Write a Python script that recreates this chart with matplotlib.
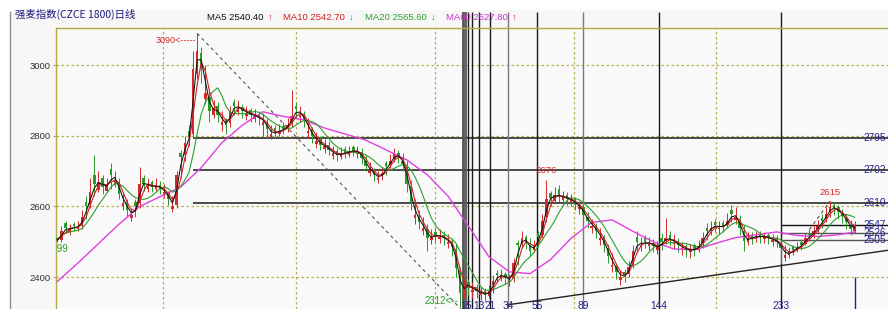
import numpy as np
import pandas as pd
import matplotlib
matplotlib.use("Agg")
import matplotlib.pyplot as plt
from matplotlib.lines import Line2D
from matplotlib.patches import Rectangle
import matplotlib.transforms as mtransforms

# one candle = 3 trading days
opens = [
    2512, 2505, 2552, 2528, 2550, 2535, 2545, 2612, 2605, 2690,
    2648, 2680, 2645, 2705, 2662, 2668, 2600, 2612, 2568, 2612,
    2610, 2680, 2650, 2668, 2650, 2662, 2632, 2638, 2592, 2605,
    2752, 2745, 2815, 2805, 2975, 3035, 2905, 2910, 2858, 2885,
    2830, 2845, 2835, 2895, 2868, 2882, 2855, 2872, 2848, 2862,
    2830, 2838, 2798, 2822, 2805, 2828, 2818, 2835, 2885, 2852,
    2862, 2808, 2818, 2778, 2790, 2762, 2775, 2742, 2758, 2740,
    2762, 2746, 2768, 2748, 2755, 2728, 2694, 2702, 2674, 2685,
    2724, 2718, 2735, 2752, 2728, 2712, 2658, 2568, 2575, 2532,
    2535, 2505, 2528, 2508, 2520, 2495, 2500, 2480, 2420, 2350,
    2385, 2358, 2372, 2350, 2362, 2348, 2378, 2412, 2398, 2408,
    2385, 2395, 2498, 2495, 2515, 2492, 2478, 2525, 2520, 2570,
    2638, 2615, 2650, 2618, 2632, 2610, 2620, 2592, 2598, 2570,
    2540, 2545, 2505, 2510, 2482, 2428, 2432, 2392, 2415, 2410,
    2435, 2515, 2485, 2510, 2488, 2498, 2478, 2512, 2502, 2518,
    2495, 2502, 2476, 2488, 2470, 2490, 2478, 2498, 2540, 2530,
    2555, 2535, 2552, 2548, 2590, 2562, 2560, 2530, 2500, 2520,
    2508, 2522, 2508, 2518, 2500, 2510, 2495, 2455, 2462, 2485,
    2476, 2500, 2495, 2525, 2520, 2535, 2568, 2565, 2585, 2605,
    2598, 2580, 2568, 2545, 2532,
]
closes = [
    2505, 2530, 2540, 2535, 2545, 2540, 2570, 2600, 2640, 2665,
    2670, 2655, 2660, 2690, 2675, 2635, 2610, 2590, 2575, 2600,
    2665, 2665, 2660, 2655, 2660, 2650, 2640, 2620, 2600, 2690,
    2740, 2780, 2800, 2990, 3040, 2990, 2920, 2870, 2880, 2860,
    2840, 2830, 2870, 2885, 2880, 2870, 2865, 2860, 2855, 2850,
    2840, 2820, 2805, 2810, 2815, 2820, 2830, 2855, 2875, 2860,
    2845, 2815, 2800, 2785, 2775, 2770, 2760, 2750, 2745, 2750,
    2752, 2756, 2758, 2755, 2738, 2715, 2700, 2690, 2680, 2695,
    2715, 2730, 2748, 2740, 2720, 2665, 2610, 2575, 2555, 2540,
    2510, 2515, 2520, 2515, 2510, 2500, 2485, 2425, 2355, 2380,
    2375, 2365, 2360, 2355, 2350, 2360, 2390, 2405, 2405, 2398,
    2390, 2440, 2490, 2510, 2500, 2475, 2490, 2515, 2560, 2620,
    2625, 2633, 2630, 2626, 2622, 2618, 2605, 2598, 2575, 2558,
    2545, 2530, 2512, 2490, 2460, 2435, 2415, 2400, 2405, 2430,
    2475, 2500, 2492, 2500, 2495, 2488, 2484, 2500, 2512, 2505,
    2500, 2490, 2482, 2478, 2476, 2480, 2488, 2510, 2532, 2540,
    2548, 2540, 2545, 2560, 2580, 2568, 2540, 2502, 2510, 2512,
    2516, 2515, 2514, 2510, 2505, 2500, 2482, 2462, 2470, 2478,
    2485, 2492, 2510, 2518, 2530, 2545, 2560, 2578, 2598, 2595,
    2585, 2572, 2555, 2535, 2545,
]
highs = [
    2515, 2545, 2560, 2550, 2555, 2560, 2590, 2630, 2680, 2746,
    2700, 2690, 2680, 2722, 2700, 2680, 2640, 2620, 2595, 2620,
    2712, 2690, 2680, 2675, 2680, 2672, 2665, 2645, 2630, 2700,
    2760, 2800, 2830, 3040, 3090, 3050, 3000, 2930, 2900, 2895,
    2870, 2850, 2885, 2905, 2900, 2890, 2885, 2880, 2875, 2870,
    2865, 2850, 2830, 2830, 2832, 2838, 2850, 2930, 2895, 2885,
    2870, 2850, 2825, 2810, 2800, 2790, 2785, 2772, 2765, 2768,
    2770, 2772, 2775, 2772, 2765, 2745, 2725, 2710, 2700, 2712,
    2730, 2748, 2765, 2760, 2750, 2730, 2675, 2620, 2590, 2570,
    2550, 2535, 2540, 2535, 2530, 2522, 2510, 2495, 2430, 2395,
    2395, 2385, 2380, 2372, 2370, 2378, 2405, 2420, 2422, 2415,
    2410, 2455, 2505, 2530, 2520, 2510, 2505, 2532, 2580, 2676,
    2645, 2655, 2662, 2645, 2640, 2635, 2628, 2615, 2605, 2585,
    2565, 2552, 2540, 2520, 2495, 2468, 2440, 2420, 2422, 2445,
    2490, 2530, 2515, 2520, 2515, 2508, 2502, 2525, 2567, 2530,
    2522, 2512, 2500, 2495, 2494, 2497, 2505, 2528, 2552, 2560,
    2565, 2560, 2562, 2582, 2605, 2598, 2575, 2548, 2528, 2528,
    2530, 2530, 2528, 2526, 2522, 2518, 2505, 2490, 2485, 2492,
    2500, 2508, 2525, 2535, 2548, 2562, 2578, 2598, 2615, 2612,
    2605, 2592, 2580, 2562, 2558,
]
lows = [
    2499, 2500, 2525, 2520, 2530, 2530, 2535, 2565, 2595, 2630,
    2640, 2635, 2640, 2650, 2655, 2620, 2590, 2570, 2558, 2570,
    2595, 2645, 2640, 2640, 2645, 2635, 2625, 2605, 2585, 2595,
    2680, 2730, 2770, 2795, 2960, 2950, 2890, 2840, 2850, 2840,
    2815, 2805, 2825, 2860, 2860, 2850, 2845, 2840, 2840, 2830,
    2800, 2795, 2790, 2795, 2800, 2805, 2812, 2825, 2850, 2840,
    2825, 2795, 2780, 2765, 2760, 2750, 2745, 2735, 2730, 2735,
    2738, 2740, 2742, 2738, 2720, 2700, 2685, 2672, 2666, 2675,
    2690, 2710, 2725, 2722, 2700, 2640, 2590, 2550, 2535, 2520,
    2474, 2495, 2500, 2498, 2492, 2482, 2460, 2400, 2312, 2340,
    2350, 2340, 2340, 2335, 2333, 2340, 2355, 2385, 2390, 2380,
    2375, 2385, 2435, 2485, 2480, 2460, 2470, 2485, 2510, 2555,
    2600, 2610, 2612, 2608, 2605, 2600, 2590, 2580, 2555, 2540,
    2525, 2512, 2492, 2470, 2440, 2415, 2395, 2379, 2385, 2400,
    2425, 2470, 2475, 2482, 2478, 2470, 2465, 2478, 2495, 2488,
    2480, 2470, 2462, 2458, 2455, 2460, 2470, 2482, 2505, 2520,
    2528, 2522, 2528, 2540, 2555, 2550, 2520, 2474, 2492, 2495,
    2500, 2498, 2497, 2494, 2488, 2484, 2440, 2445, 2455, 2462,
    2470, 2478, 2490, 2502, 2512, 2525, 2540, 2555, 2570, 2575,
    2565, 2552, 2535, 2518, 2525,
]

# MA60 read every 5th candle
ma60_idx = list(range(0, 195, 5)) + [194]
ma60 = [
    2388, 2440, 2495, 2550, 2600, 2628, 2655, 2710, 2780, 2830,
    2868, 2855, 2845, 2822, 2805, 2788, 2760, 2732, 2690, 2630,
    2545, 2458, 2415, 2410, 2450, 2510, 2555, 2562, 2530, 2500,
    2480, 2477, 2495, 2512, 2520, 2528, 2518, 2515, 2520, 2528,
]

ma_names = ["MA5", "MA10", "MA20", "MA60"]
ma_last = ["2540.40", "2542.70", "2565.60", "2527.80"]
ma_dir = ["up", "down", "down", "up"]

levels_long = [2795, 2702, 2610]
levels_short = [2547, 2526, 2505]
fib_numbers = [1, 2, 3, 5, 8, 13, 21, 34, 55, 89, 144, 233]
fib_labels = [1, 5, 13, 21, 34, 55, 89, 144, 233]
peak_marks = [119, 188]
grid_days = [78, 175, 277, 378, 482]
trend_days = [330, 607]
trend_prices = [2322, 2476]

RED = "#d42a2a"
GREEN = "#2a9a2a"
BLUE = "#22228a"
SANS = ["Liberation Sans", "DejaVu Sans"]

n = len(closes)
days = 1 + 3 * np.arange(n)
o = np.array(opens)
c = np.array(closes)
colors = np.where(c >= o, RED, GREEN)

s = pd.Series(closes, dtype=float)
ma5 = s.rolling(2, min_periods=1).mean()
ma10 = s.rolling(3, min_periods=1).mean()
ma20 = s.rolling(7, min_periods=1).mean()

fig = plt.figure(figsize=(8.88, 3.09), dpi=100)
fig.patch.set_facecolor("white")
fig.add_artist(Rectangle((10 / 888, 0), 878 / 888, 1 - 10 / 309,
                         transform=fig.transFigure, facecolor="#f7f7f7",
                         edgecolor="none", zorder=0))
fig.add_artist(Line2D([10 / 888, 10 / 888], [0, 1 - 12 / 309],
                      transform=fig.transFigure, color="#8c8c8c", lw=1))

ax = fig.add_axes([56 / 888, 0, 832 / 888, 281 / 309])
ax.set_facecolor("#f9f9f9")
ax.set_xlim(0, 607.3)
ax.set_ylim(2310, 3105)
for side in ["right", "bottom"]:
    ax.spines[side].set_visible(False)
for side in ["left", "top"]:
    ax.spines[side].set_color("#b2aa46")
    ax.spines[side].set_linewidth(1)

ax.set_xticks(grid_days)
ax.set_xticklabels([])
ax.tick_params(axis="x", length=0)
ax.set_yticks([2400, 2600, 2800, 3000])
ax.tick_params(axis="y", length=2, color="#b2aa46", labelsize=6.8,
               labelcolor="#303030", pad=2)
for lab in ax.get_yticklabels():
    lab.set_family(SANS)
ax.grid(True, color="#b8b050", linestyle=(0, (2, 2)), lw=0.9)
ax.set_axisbelow(True)

# support / resistance levels
i_hi = int(np.argmax(highs))
i_lo = int(np.argmin(lows))
fib_base = days[i_lo] + 1
for lv in levels_long:
    ax.hlines(lv, days[33], 607.3, color="#4a4a4a", lw=1.4, zorder=2)
for lv, lc in zip(levels_short, ["#111111", "#555555", "#555555"]):
    ax.hlines(lv, fib_base + 233, 607.3, color=lc, lw=1.0, zorder=2)
yt = mtransforms.blended_transform_factory(ax.transAxes, ax.transData)
for lv in levels_long + levels_short:
    ax.text(0.9976, lv, str(lv), transform=yt, ha="right", va="center",
            color=BLUE, fontsize=7.3, family=SANS, zorder=6)

# fibonacci time zones
for k in fib_numbers:
    if k <= 3:
        lc, w = "#555555", 1.3
    elif k in (34, 89):
        lc, w = "#7a7a7a", 1.0
    else:
        lc, w = "#1a1a1a", 1.0
    ax.vlines(fib_base + k, 2310, 3150, color=lc, lw=w, zorder=2, clip_on=False)
xt = mtransforms.blended_transform_factory(ax.transData, ax.transAxes)
for k in fib_labels:
    ax.text(fib_base + k, 0.012, str(k), transform=xt, ha="center", va="center",
            color=BLUE, fontsize=7.3, family=SANS, zorder=6)

# trend lines
ax.plot([days[i_hi], days[i_lo]], [highs[i_hi], lows[i_lo]], color="#555555",
        lw=0.8, ls=(0, (3, 3)), zorder=2)
ax.plot([days[183], days[188]], [highs[183], highs[188]], color="#555555",
        lw=0.8, ls=(0, (3, 3)), zorder=2)
ax.plot(trend_days, trend_prices, color="#222222", lw=1.0, zorder=2)
ax.vlines(days[-1], 2310, 2400, color=BLUE, lw=1.0, zorder=2)

# candles
body_low = np.minimum(o, c)
body_h = np.maximum(np.abs(c - o), 2)
ax.vlines(days, lows, highs, colors=colors, lw=0.7, zorder=3)
ax.bar(days, body_h, bottom=body_low, width=1.8, color=colors, linewidth=0, zorder=3)

# moving averages
ax.plot(days[ma60_idx], ma60, color="#e040e0", lw=1.0, zorder=4)
ax.plot(days, ma20, color="#2ca02c", lw=0.8, zorder=4)
ax.plot(days, ma10, color="#d62020", lw=0.8, zorder=4)
ax.plot(days, ma5, color="#111111", lw=0.75, zorder=4)

# price marks
ax.annotate(f"{highs[i_hi]}<-----", xy=(days[i_hi], highs[i_hi]), xytext=(-1, -5),
            textcoords="offset points", ha="right", va="center", color=RED,
            fontsize=6.5, family=SANS, zorder=6)
ax.annotate(f"{lows[i_lo]}<--", xy=(days[i_lo], lows[i_lo]), xytext=(-1, 5),
            textcoords="offset points", ha="right", va="center", color=GREEN,
            fontsize=7, family=SANS, zorder=6)
for i in peak_marks:
    ax.annotate(str(highs[i]), xy=(days[i], highs[i]), xytext=(0, 3),
                textcoords="offset points", ha="center", va="bottom", color=RED,
                fontsize=6.8, family=SANS, zorder=6)
first = ax.annotate(str(lows[0]), xy=(days[0], lows[0]), xytext=(8, -1),
                    textcoords="offset points", ha="right", va="top", color=GREEN,
                    fontsize=7, family=SANS, zorder=6)
first.set_clip_box(ax.bbox)
first.set_clip_on(True)

# header
fig.text(15 / 888, 1 - 14 / 309, "强麦指数(CZCE 1800)日线", color="#1c1c7c",
         fontsize=7.5, family=["Noto Sans CJK SC", "DejaVu Sans"], va="center")
renderer = fig.canvas.get_renderer()
ma_colors = ["#111111", "#d62020", "#2ca02c", "#d030d0"]
x = 207
y = 1 - 17 / 309
for name, val, way, mc in zip(ma_names, ma_last, ma_dir, ma_colors):
    tx = fig.text(x / 888, y, f"{name} {val}", color=mc, fontsize=6.8,
                  family=SANS, va="center")
    x = tx.get_window_extent(renderer).x1 + 4
    arrow = "↑" if way == "up" else "↓"
    ar = fig.text(x / 888, y, arrow, color=RED if way == "up" else GREEN,
                  fontsize=6.8, family=SANS, va="center")
    x = ar.get_window_extent(renderer).x1 + 11

fig.savefig("out.png", dpi=100)
